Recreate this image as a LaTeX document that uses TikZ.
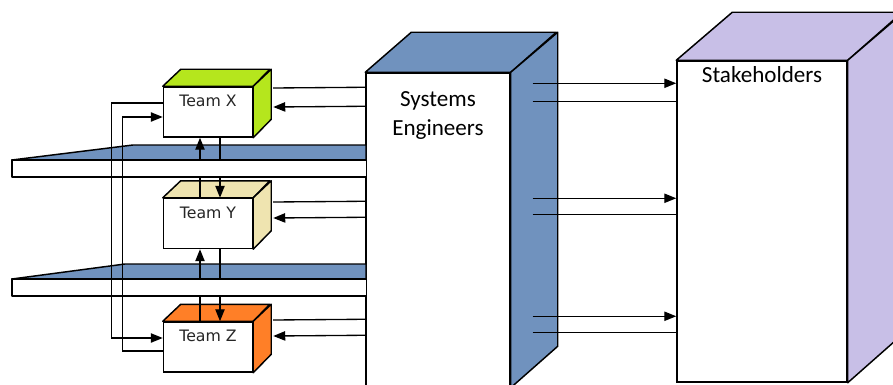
\documentclass[tikz,border=0pt]{standalone}
\usepackage{fontspec}
\setmainfont{Carlito}
\newfontfamily\teamfont{DejaVu Sans}
\usetikzlibrary{calc}
\usetikzlibrary{arrows.meta}

\definecolor{seblue}{HTML}{7092BE}
\definecolor{stakepurple}{HTML}{C8BFE7}
\definecolor{xgreen}{HTML}{B5E61D}
\definecolor{ybeige}{HTML}{EFE4B0}
\definecolor{zorange}{HTML}{FF7F27}

\tikzset{
  cube/.style={draw, line width=1.1pt, fill=white, inner sep=0pt},
  teambox/.style={cube, minimum width=66.75pt, minimum height=37.5pt},
  teamlabel/.style={font=\teamfont\fontsize{11.8}{14}\selectfont, text=black!85, anchor=north, inner sep=0pt, label distance=-6.5pt},
  biglabel/.style={font=\fontsize{17.3}{21.75}\selectfont, align=center, anchor=north, inner sep=0pt},
  face/.style={draw, line width=1.1pt, line join=round},
  link/.style={line width=1pt},
}

\begin{document}
\begin{tikzpicture}[x=0.75pt, y=-0.75pt, >={Triangle[length=9pt,width=7pt]}]
  \useasboundingbox (0,0) rectangle (893,385);
  \clip (0,0) rectangle (893,385);

  \node [cube, minimum width=108pt, minimum height=235.5pt,
    label={[biglabel, label distance=-14.25pt]north:Systems\\Engineers}] (se) at (438,230) {};
  \draw [face, fill=seblue] (se.north west) -- ++(46,-40) -- ++(145,0) -- (se.north east) -- cycle;
  \draw [face, fill=seblue] (se.north east) -- ++(47,-40) -- ++(0,314) -- (se.south east) -- cycle;

  \node [cube, minimum width=127.5pt, minimum height=240.75pt,
    label={[biglabel, label distance=-4.5pt]north:Stakeholders}] (stake) at (762,221.5) {};
  \draw [face, fill=stakepurple] (stake.north west) -- ++(56,-48) -- ++(170,0) -- (stake.north east) -- cycle;
  \draw [face, fill=stakepurple] (stake.north east) -- ++(56,-48) -- ++(0,321) -- (stake.south east) -- cycle;

  \node [teambox, label={[teamlabel]north:Team X}] (teamX) at (208,112) {};
  \draw [face, fill=xgreen] (teamX.north west) -- ++(18,-17) -- ++(89,0) -- (teamX.north east) -- cycle;
  \draw [face, fill=xgreen] (teamX.north east) -- ++(18,-17) -- ++(0,50) -- (teamX.south east) -- cycle;

  \node [teambox, label={[teamlabel]north:Team Y}] (teamY) at (208,223.5) {};
  \draw [face, fill=ybeige] (teamY.north west) -- ++(18,-17) -- ++(89,0) -- (teamY.north east) -- cycle;
  \draw [face, fill=ybeige] (teamY.north east) -- ++(18,-17) -- ++(0,50) -- (teamY.south east) -- cycle;

  \node [teambox, label={[teamlabel]north:Team Z}] (teamZ) at (208,347) {};
  \draw [face, fill=zorange] (teamZ.north west) -- ++(18,-17) -- ++(89,0) -- (teamZ.north east) -- cycle;
  \draw [face, fill=zorange] (teamZ.north east) -- ++(18,-17) -- ++(0,50) -- (teamZ.south east) -- cycle;

  \draw [face, fill=seblue] (12,160) -- (133,145) -- (366,145) -- (366,160) -- cycle;
  \draw [face, fill=seblue] (12,279) -- (125,264) -- (366,264) -- (366,279) -- cycle;

  \draw [link, ->] ($(teamY.north)+(-8,0)$) -- ($(teamX.south)+(-8,0)$);
  \draw [link, ->] ($(teamX.south)+(12,0)$) -- ($(teamY.north)+(12,0)$);
  \draw [link, ->] ($(teamZ.north)+(-8,0)$) -- ($(teamY.south)+(-8,0)$);
  \draw [link, ->] ($(teamY.south)+(12,0)$) -- ($(teamZ.north)+(12,0)$);

  \fill [white] (12,160) rectangle (366,177);
  \draw [face] (366,160) -- (12,160) -- (12,177) -- (366,177);
  \fill [white] (12,279) rectangle (366,296);
  \draw [face] (366,279) -- (12,279) -- (12,296) -- (366,296);

  \draw [link, ->] ($(teamX.west)+(0,-9)$) -- ++(-51,0) |- ($(teamZ.west)+(0,-9)$);
  \draw [link, ->] ($(teamZ.west)+(0,4)$) -- ++(-40,0) |- ($(teamX.west)+(0,5)$);

  \draw [link] ($(teamX.east)+(20,-24)$) -- ($(se.north west)+(0,15)$);
  \draw [link, ->] ($(se.north west)+(0,34)$) -- ($(teamX.east)+(20,-5)$);
  \draw [link] ($(teamY.east)+(20,-21.5)$) -- ($(se.north west)+(0,129)$);
  \draw [link, ->] ($(se.north west)+(0,145)$) -- ($(teamY.east)+(20,-5.5)$);
  \draw [link] ($(teamZ.east)+(20,-27)$) -- ($(se.north west)+(0,247)$);
  \draw [link, ->] ($(se.north west)+(0,263)$) -- ($(teamZ.east)+(20,-11)$);

  \draw [link, ->] ($(se.north east)+(22,11)$) -- ($(stake.north west)+(0,23)$);
  \draw [link] ($(se.north east)+(22,29)$) -- ($(stake.north west)+(0,41)$);
  \draw [link, ->] ($(se.north east)+(22,126)$) -- ($(stake.north west)+(0,138)$);
  \draw [link] ($(se.north east)+(22,142)$) -- ($(stake.north west)+(0,154)$);
  \draw [link, ->] ($(se.north east)+(22,244)$) -- ($(stake.north west)+(0,256)$);
  \draw [link] ($(se.north east)+(22,260)$) -- ($(stake.north west)+(0,272)$);
\end{tikzpicture}
\end{document}
